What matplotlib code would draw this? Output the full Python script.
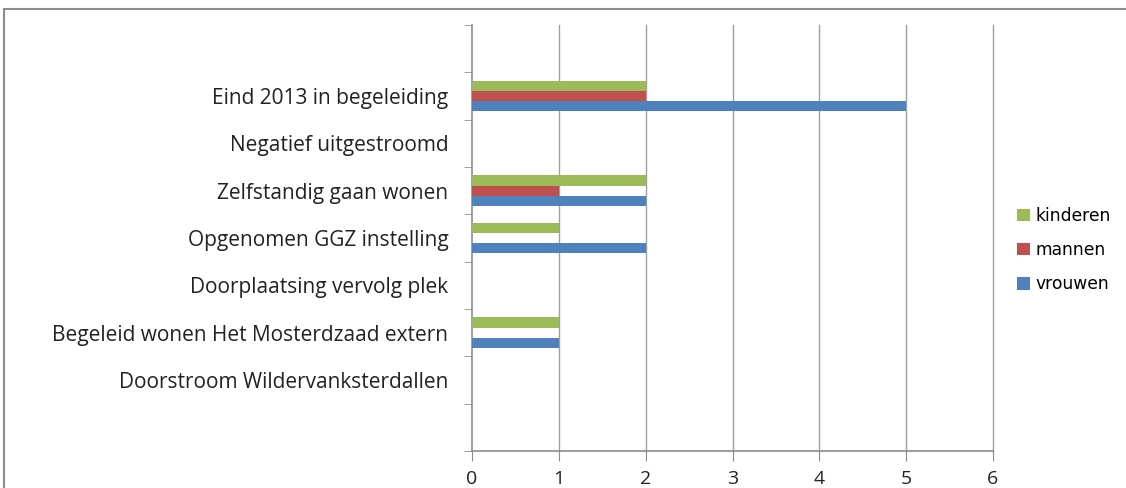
import matplotlib
matplotlib.use("Agg")
import matplotlib.pyplot as plt
from matplotlib.patches import Rectangle

categories = ['', 'Doorstroom Wildervanksterdallen', 'Begeleid wonen Het Mosterdzaad extern',
              'Doorplaatsing vervolg plek', 'Opgenomen GGZ instelling', 'Zelfstandig gaan wonen',
              'Negatief uitgestroomd', 'Eind 2013 in begeleiding', '']
vrouwen = [0, 0, 1, 0, 2, 2, 0, 5, 0]
mannen = [0, 0, 0, 0, 0, 1, 0, 2, 0]
kinderen = [0, 0, 1, 0, 1, 2, 0, 2, 0]
xticks = [0, 1, 2, 3, 4, 5, 6]

fig = plt.figure(figsize=(11.26, 4.88), dpi=100)
ax = fig.add_axes([472/1126, 1-451/488, (993-472)/1126, (451-25)/488])

h = 0.218
ys = range(len(categories))
ax.barh([y - h for y in ys], vrouwen, height=h, color='#4F81BD', label='vrouwen', zorder=3)
ax.barh([y for y in ys], mannen, height=h, color='#C0504D', label='mannen', zorder=3)
ax.barh([y + h for y in ys], kinderen, height=h, color='#9BBB59', label='kinderen', zorder=3)

ax.set_xlim(0, 6)
ax.set_ylim(-0.5, len(categories) - 0.5)
ax.set_xticks(xticks)
ax.set_xticklabels([str(t) for t in xticks], fontsize=14, family='Open Sans', color='#222222')
ax.set_yticks(list(ys))
ax.set_yticklabels(categories, fontsize=15, family='Open Sans', color='#222222')
ax.set_yticks([i - 0.5 for i in range(len(categories) + 1)], minor=True)
ax.tick_params(axis='y', which='major', length=0, pad=17)
ax.tick_params(axis='y', which='minor', length=6, color='#8c8c8c', direction='out')
ax.tick_params(axis='x', which='major', length=7, color='#8c8c8c', direction='out', pad=7)
for t in xticks[1:]:
    ax.axvline(t, color='#a0a0a0', lw=1, zorder=0, clip_on=False)
for s in ['top', 'right']:
    ax.spines[s].set_visible(False)
for s in ['left', 'bottom']:
    ax.spines[s].set_color('#8c8c8c')
    ax.spines[s].set_linewidth(1.2)

handles, labels = ax.get_legend_handles_labels()
leg = fig.legend(handles[::-1], labels[::-1], loc='center left', bbox_to_anchor=(1002/1126, 1-250/488),
                 frameon=False, handlelength=0.75, handleheight=0.75, handletextpad=0.3,
                 labelspacing=0.95, prop={'family': 'DejaVu Sans', 'size': 12.3})

fig.patches.append(Rectangle((3.5/1126, -0.1), 1.2, 1.1 - 9/488, transform=fig.transFigure,
                             fill=False, edgecolor='#8c8c8c', lw=1.5))

fig.savefig('out.png', dpi=100)
